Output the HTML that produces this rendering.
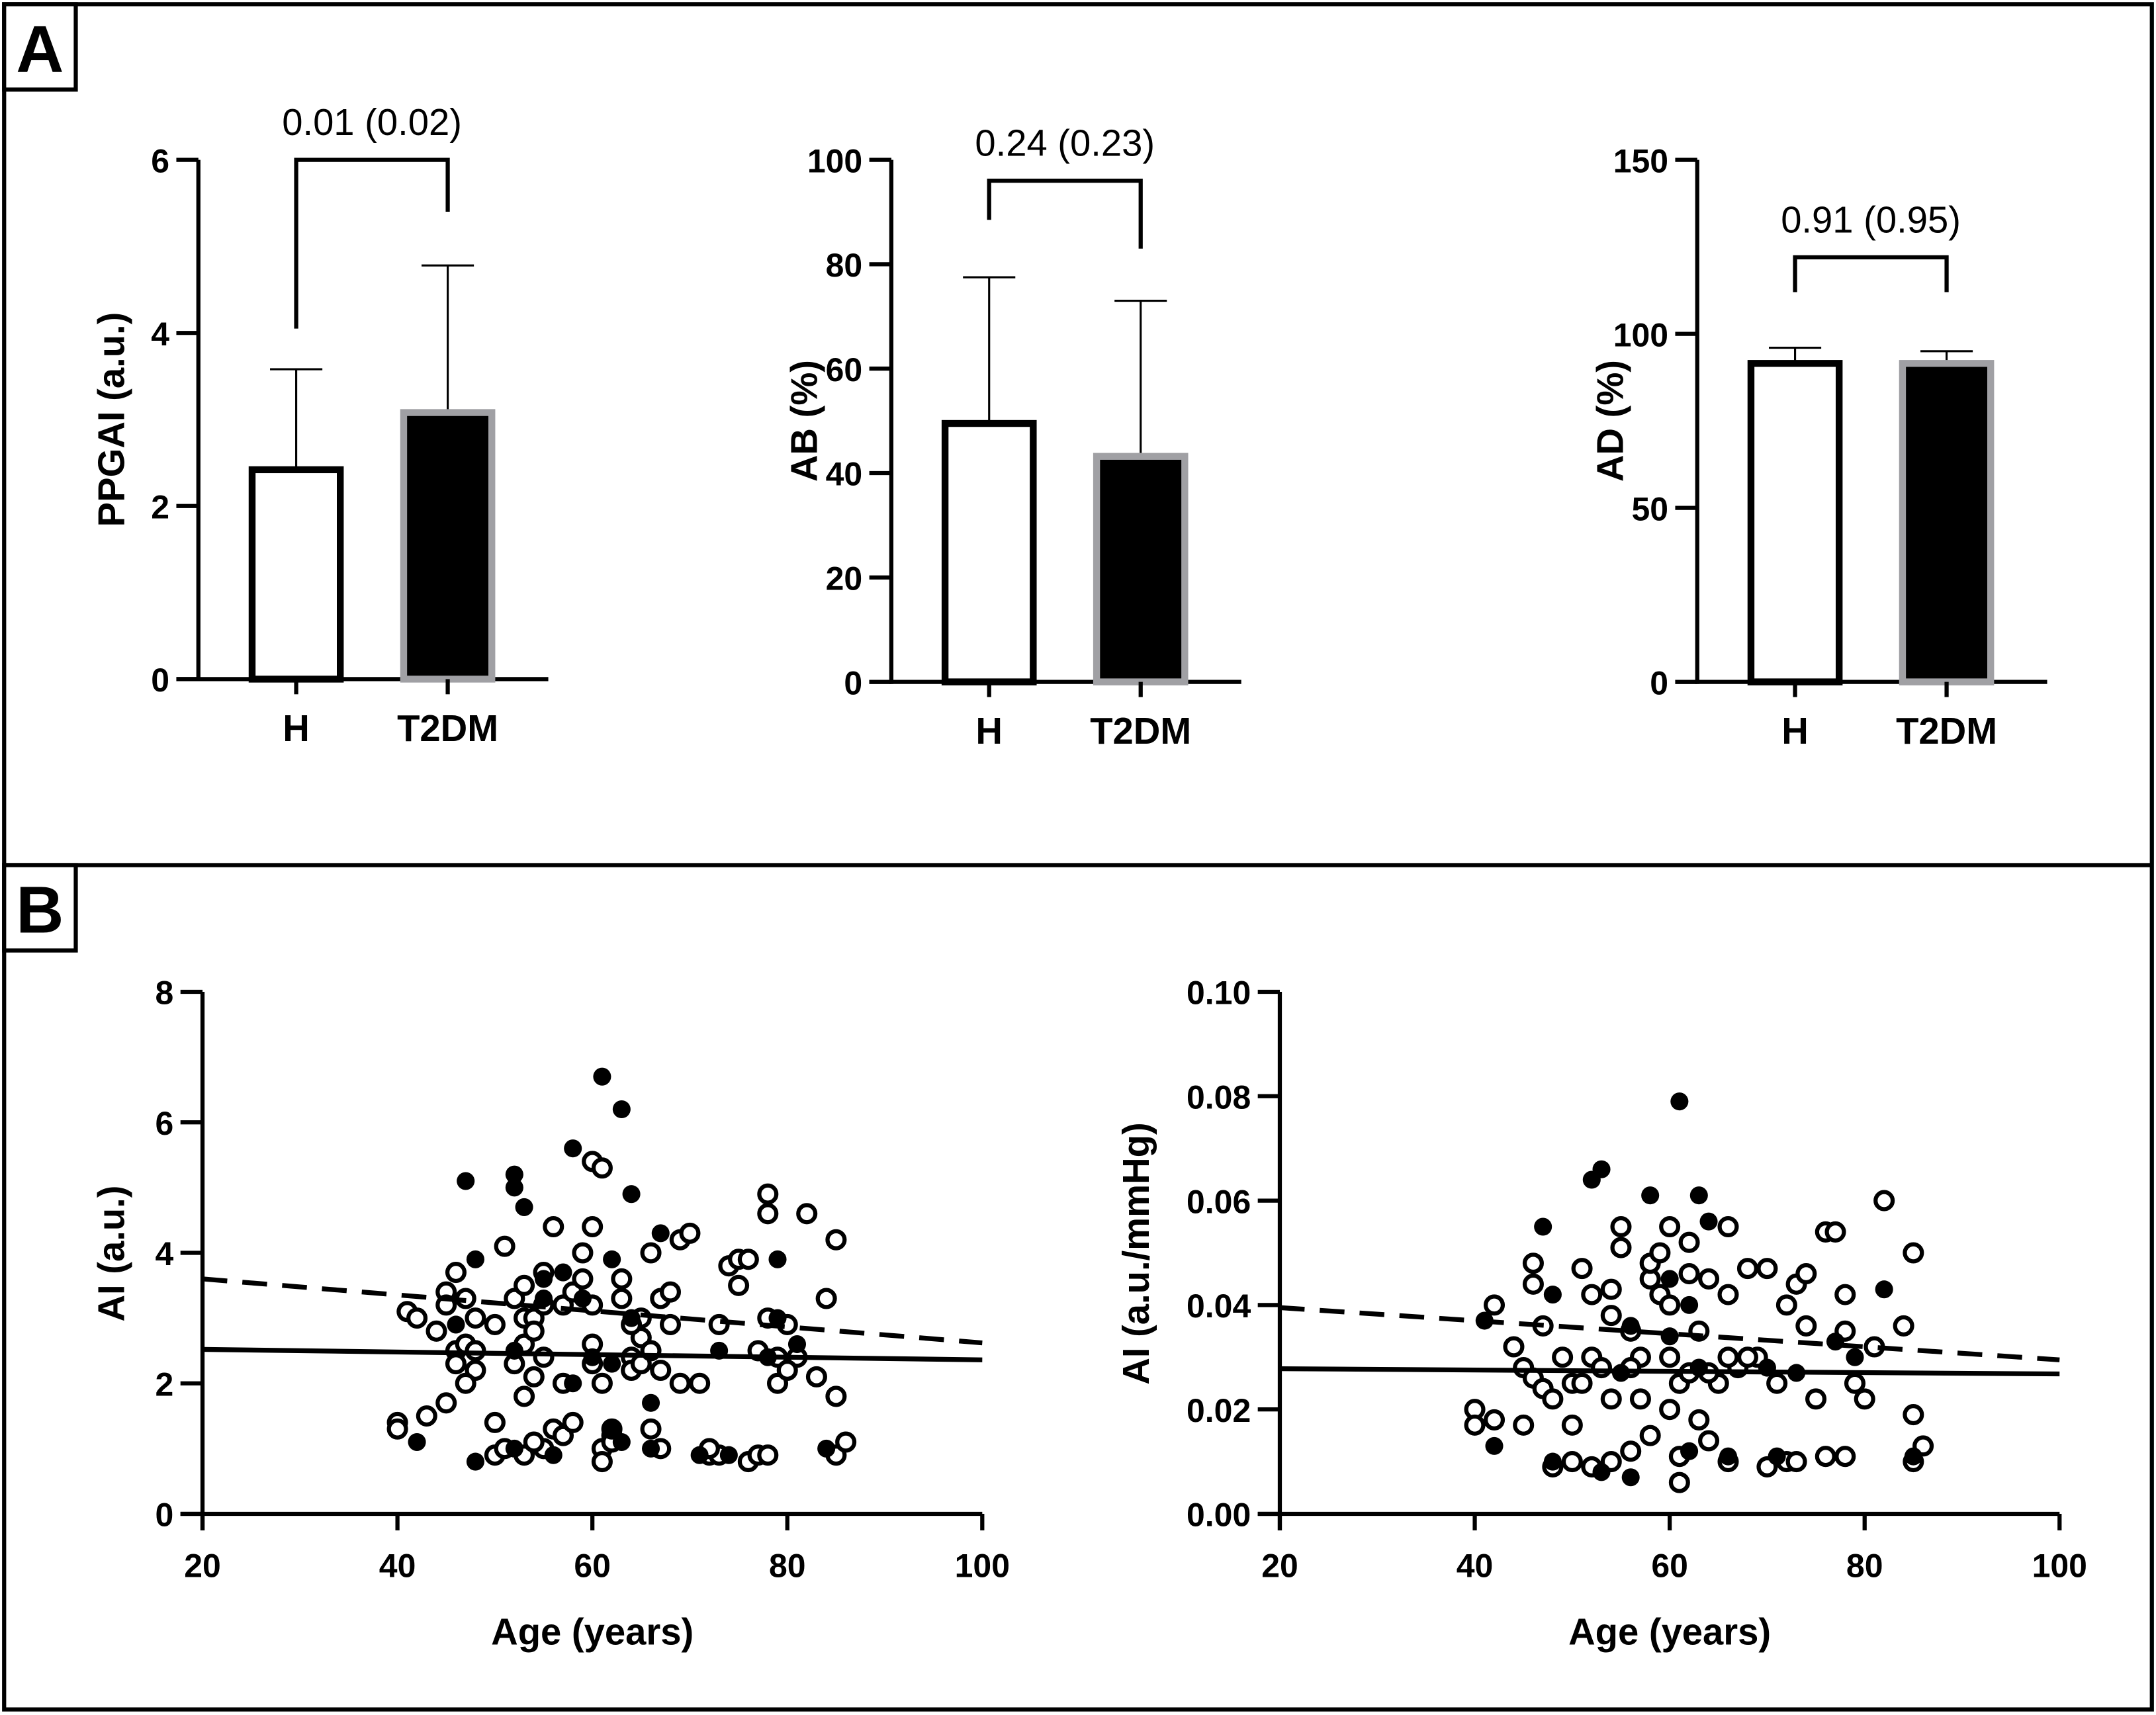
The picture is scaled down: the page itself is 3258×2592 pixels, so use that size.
<!DOCTYPE html>
<html><head><meta charset="utf-8"><style>
html,body{margin:0;padding:0;background:#fff}
svg{display:block}
text{font-family:"Liberation Sans",Arial,sans-serif}
.tk{font-weight:bold;font-size:24px}
.lb{font-weight:bold;font-size:27px}
.pv{font-size:27px}
</style></head><body>
<svg id="fig" width="3258" height="2592" viewBox="0 0 1565 1245" xmlns="http://www.w3.org/2000/svg">
<rect x="3" y="3" width="1559" height="1238" fill="#fff" stroke="#000" stroke-width="3"/>
<line x1="3" y1="628" x2="1562" y2="628" stroke="#000" stroke-width="3"/>
<g><rect x="3" y="3" width="52" height="62" fill="#fff" stroke="#000" stroke-width="3"/><text x="29" y="52" text-anchor="middle" font-weight="bold" font-size="48">A</text></g>
<g><rect x="3" y="628" width="52" height="62" fill="#fff" stroke="#000" stroke-width="3"/><text x="29" y="677" text-anchor="middle" font-weight="bold" font-size="48">B</text></g>
<g id="plots"></g>
</svg>
<script>
// ---- bar chart data ----
const barGroups = ["H","T2DM"];
const ppgaiMeans = [2.42, 3.08];
const ppgaiErr = [3.58, 4.78];
const abMeans = [49.5, 43.2];
const abErr = [77.5, 73];
const adMeans = [91.5, 91.5];
const adErr = [96, 95];
const ppgaiTicks = [0,2,4,6];
const abTicks = [0,20,40,60,80,100];
const adTicks = [0,50,100,150];
const pLabels = ["0.01 (0.02)","0.24 (0.23)","0.91 (0.95)"];
// bracket leg ends in data units
const ppgaiBracket = [6, 4.05, 5.4];
const abBracket = [96, 88.5, 83];
const adBracket = [122, 112, 112];

// ---- scatter data (age, AI) ----
const aiHealthyAge = [40,40,43,41,42,44,45,45,46,46,46,47,47,48,48,47,48,45,50,50,51,52,53,53,53,54,54,55,55,55,56,57,54,53,52,56,55,57,50,51,53,54,58,59,59,60,61,60,60,60,60,61,61,61,62,62,63,63,64,64,65,65,65,66,66,67,66,67,68,68,69,69,70,72,73,72,74,75,75,76,76,77,78,78,78,78,79,79,80,81,82,84,85,85,85,86,57,58,62,64,67,71,73,77,80,83];
const aiHealthyVal = [1.4,1.3,1.5,3.1,3.0,2.8,3.4,3.2,3.7,2.5,2.3,3.3,2.6,3.0,2.2,2.0,2.5,1.7,2.9,1.4,4.1,3.3,3.5,3.0,2.6,3.0,2.8,2.4,3.2,3.7,4.4,3.2,2.1,1.8,2.3,1.3,1.0,1.2,0.9,1.0,0.9,1.1,3.4,3.6,4.0,5.4,5.3,4.4,3.2,2.6,2.3,2.0,1.0,0.8,1.2,1.1,3.3,3.6,2.4,2.2,2.7,3.0,2.3,2.5,4.0,3.3,1.3,1.0,3.4,2.9,2.0,4.2,4.3,0.9,0.9,1.0,3.8,3.5,3.9,3.9,0.8,0.9,0.9,3.0,4.6,4.9,2.4,2.0,2.9,2.4,4.6,3.3,1.8,4.2,0.9,1.1,2.0,1.4,1.3,2.9,2.2,2.0,2.9,2.5,2.2,2.1];
const aiDiabAge = [47,52,52,53,58,61,63,64,48,57,62,59,67,79,64,58,55,81,42,48,52,56,62,66,71,60,52,46,73,79,62,55,66,74,78,84,63];
const aiDiabVal = [5.1,5.2,5.0,4.7,5.6,6.7,6.2,4.9,3.9,3.7,3.9,3.3,4.3,3.9,3.0,2.0,3.6,2.6,1.1,0.8,1.0,0.9,1.3,1.7,0.9,2.4,2.5,2.9,2.5,3.0,2.3,3.3,1.0,0.9,2.4,1.0,1.1];
const aiHealthyFit = [2.52, 2.36];
const aiDiabFit = [3.6, 2.62];

const aipHealthyAge = [40,40,42,42,44,46,46,45,46,47,48,47,49,50,50,51,52,52,53,54,54,55,55,56,57,58,58,59,59,60,60,60,61,61,61,62,62,63,64,65,66,66,67,68,69,70,71,72,72,73,74,74,75,76,77,78,78,79,80,81,82,84,85,85,86,85,50,52,54,56,58,64,66,70,73,76,78,45,48,57,60,63,68,62,54,51,56,64,66];
const aipHealthyVal = [0.020,0.017,0.018,0.040,0.032,0.048,0.044,0.028,0.026,0.024,0.022,0.036,0.030,0.025,0.017,0.047,0.042,0.030,0.028,0.043,0.038,0.051,0.055,0.035,0.030,0.045,0.048,0.050,0.042,0.055,0.040,0.030,0.025,0.011,0.006,0.052,0.046,0.035,0.045,0.025,0.042,0.055,0.028,0.047,0.030,0.047,0.025,0.040,0.010,0.044,0.046,0.036,0.022,0.054,0.054,0.042,0.035,0.025,0.022,0.032,0.060,0.036,0.050,0.019,0.013,0.010,0.010,0.009,0.010,0.012,0.015,0.014,0.010,0.009,0.010,0.011,0.011,0.017,0.009,0.022,0.020,0.018,0.030,0.027,0.022,0.025,0.028,0.027,0.030];
const aipDiabAge = [47,52,53,58,61,63,64,48,56,60,62,70,82,42,48,53,56,62,66,71,55,60,77,79,85,41,63,73];
const aipDiabVal = [0.055,0.064,0.066,0.061,0.079,0.061,0.056,0.042,0.036,0.045,0.040,0.028,0.043,0.013,0.010,0.008,0.007,0.012,0.011,0.011,0.027,0.034,0.033,0.030,0.011,0.037,0.028,0.027];
const aipHealthyFit = [0.0278, 0.0268];
const aipDiabFit = [0.0395, 0.0295];
const ageTicks = [20,40,60,80,100];
const aiTicks = [0,2,4,6,8];
const aipTicks = ["0.00","0.02","0.04","0.06","0.08","0.10"];

const NS="http://www.w3.org/2000/svg";
const root=document.getElementById('plots');
function mk(tag,attrs,parent){const e=document.createElementNS(NS,tag);for(const k in attrs)e.setAttribute(k,attrs[k]);(parent||root).appendChild(e);return e;}
function txt(s,attrs,parent){const e=mk('text',attrs,parent);e.textContent=s;return e;}

function barChart(cfg){
  const g=mk('g',{});
  
  
  const y0=cfg.y0,yTop=116,max=cfg.ticks[cfg.ticks.length-1];
  const yS=v=>y0-(v/max)*(y0-yTop);
  const ax=cfg.ax;
  const yl=mk('line',{x1:ax,y1:yTop,x2:ax,y2:y0+1.5,stroke:'#000','stroke-width':3},g);
  
  
  const xl=mk('line',{x1:ax-16,y1:y0,x2:ax+254,y2:y0,stroke:'#000','stroke-width':3},g);
  
  
  cfg.ticks.forEach(t=>{
    mk('line',{x1:ax-16,y1:yS(t),x2:ax,y2:yS(t),stroke:'#000','stroke-width':3},g);
    const tl=txt(String(t),{x:ax-21,y:yS(t)+9,'text-anchor':'end',class:'tk'},g);
    
    
  });
  const centers=[ax+71,ax+181];
  barGroups.forEach((b,i)=>{
    const c=centers[i],v=cfg.means[i],e=cfg.err[i];
    mk('line',{x1:c,y1:yS(v),x2:c,y2:yS(e),stroke:'#000','stroke-width':1.5},g);
    mk('line',{x1:c-19,y1:yS(e),x2:c+19,y2:yS(e),stroke:'#000','stroke-width':1.5},g);
    const r=mk('rect',{x:c-32,y:yS(v),width:64,height:y0-yS(v),fill:i?'#000':'#fff',stroke:i?'#a0a0a4':'#000','stroke-width':5},g);
    
    
    mk('line',{x1:c,y1:y0,x2:c,y2:y0+11,stroke:'#000','stroke-width':3},g);
    const l=txt(b,{x:c,y:y0+45,'text-anchor':'middle',class:'lb'},g);
    
    
  });
  const br=cfg.bracket;
  const p=mk('path',{d:`M${centers[0]},${yS(br[1])}V${yS(br[0])}H${centers[1]}V${yS(br[2])}`,fill:'none',stroke:'#000','stroke-width':3},g);
  
  
  const pt=txt(cfg.p,{x:(centers[0]+centers[1])/2,y:yS(br[0])-18,'text-anchor':'middle',class:'pv'},g);
  
  
  const yt=txt(cfg.ylab,{x:0,y:0,'text-anchor':'middle',class:'lb',transform:`translate(${ax-54},${(y0+yTop)/2}) rotate(-90)`},g);
  
  
}
barChart({name:'ppgai-bar-chart',ax:144,y0:493,ticks:ppgaiTicks,means:ppgaiMeans,err:ppgaiErr,bracket:ppgaiBracket,p:pLabels[0],ylab:'PPGAI (a.u.)'});
barChart({name:'ab-bar-chart',ax:647,y0:495,ticks:abTicks,means:abMeans,err:abErr,bracket:abBracket,p:pLabels[1],ylab:'AB (%)'});
barChart({name:'ad-bar-chart',ax:1232,y0:495,ticks:adTicks,means:adMeans,err:adErr,bracket:adBracket,p:pLabels[2],ylab:'AD (%)'});

function scatter(cfg){
  const g=mk('g',{});
  
  
  const ax=cfg.ax,x1=ax+566,y0=1099,yT=720;
  const ymax=parseFloat(cfg.ticks[cfg.ticks.length-1]);
  const xS=a=>ax+(a-20)/80*566;
  const yS=v=>y0-v/ymax*(y0-yT);
  const yl=mk('line',{x1:ax,y1:yT,x2:ax,y2:y0+12,stroke:'#000','stroke-width':3},g);
  
  
  const xl=mk('line',{x1:ax-16,y1:y0,x2:x1,y2:y0,stroke:'#000','stroke-width':3},g);
  
  
  cfg.ticks.forEach(t=>{
    const v=parseFloat(t);
    mk('line',{x1:ax-16,y1:yS(v),x2:ax,y2:yS(v),stroke:'#000','stroke-width':3},g);
    const tl=txt(String(t),{x:ax-21,y:yS(v)+9,'text-anchor':'end',class:'tk'},g);
    
    
  });
  ageTicks.forEach(t=>{
    mk('line',{x1:xS(t),y1:y0,x2:xS(t),y2:y0+12,stroke:'#000','stroke-width':3},g);
    const tl=txt(String(t),{x:xS(t),y:y0+46,'text-anchor':'middle',class:'tk'},g);
    
    
  });
  cfg.hA.forEach((a,i)=>{
    const c=mk('circle',{cx:xS(a),cy:yS(cfg.hV[i]),r:6.2,fill:'#fff',stroke:'#000','stroke-width':3},g);
    
    
  });
  cfg.dA.forEach((a,i)=>{
    const c=mk('circle',{cx:xS(a),cy:yS(cfg.dV[i]),r:6.5,fill:'#000'},g);
    
    
  });
  const l1=mk('line',{x1:xS(20),y1:yS(cfg.hF[0]),x2:xS(100),y2:yS(cfg.hF[1]),stroke:'#000','stroke-width':3.5},g);
  
  
  const l2=mk('line',{x1:xS(20),y1:yS(cfg.dF[0]),x2:xS(100),y2:yS(cfg.dF[1]),stroke:'#000','stroke-width':3.5,'stroke-dasharray':'18 11'},g);
  
  
  const xt=txt('Age (years)',{x:ax+283,y:1194,'text-anchor':'middle',class:'lb'},g);
  
  
  const yt=txt(cfg.ylab,{x:0,y:0,'text-anchor':'middle',class:'lb',transform:`translate(${cfg.ylx},${cfg.yly}) rotate(-90)`},g);
  
  
}
scatter({name:'ai-age-scatter',ax:147,ticks:aiTicks,hA:aiHealthyAge,hV:aiHealthyVal,dA:aiDiabAge,dV:aiDiabVal,hF:aiHealthyFit,dF:aiDiabFit,ylab:'AI (a.u.)',ylx:90,yly:910});
scatter({name:'ai-mmhg-age-scatter',ax:929,ticks:aipTicks,hA:aipHealthyAge,hV:aipHealthyVal,dA:aipDiabAge,dV:aipDiabVal,hF:aipHealthyFit,dF:aipDiabFit,ylab:'AI (a.u./mmHg)',ylx:834,yly:910});
</script>
</body></html>
